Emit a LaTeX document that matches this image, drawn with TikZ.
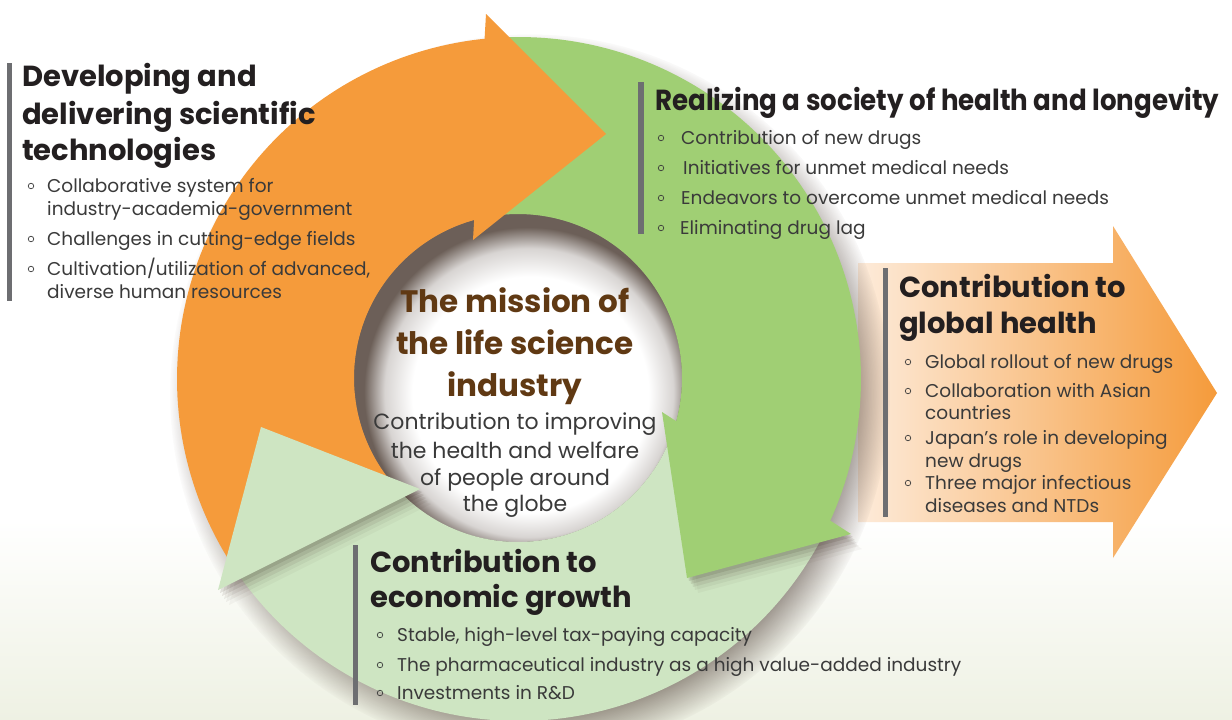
\documentclass[tikz,border=0pt]{standalone}
\usepackage{fontspec}
\setmainfont{Poppins}
\usetikzlibrary{fadings}
\definecolor{cOrange}{HTML}{F59B3B}
\definecolor{cGreen}{HTML}{A0CF74}
\definecolor{cLight}{HTML}{CEE5C2}
\definecolor{cBar}{HTML}{6D6E71}
\definecolor{cTitle}{HTML}{231F20}
\definecolor{cText}{HTML}{3A3A3A}
\definecolor{cBrown}{HTML}{603913}
\definecolor{cShadow}{HTML}{3B2A20}
\definecolor{cPeach}{HTML}{FDEBDA}
\definecolor{cBgLow}{HTML}{EEF1E3}
\pgfdeclareradialshading{holeshade}{\pgfpoint{3bp}{-4bp}}{color(0bp)=(white); color(18bp)=(white); color(22bp)=(cShadow!20!white); color(25bp)=(cShadow!75!white); color(50bp)=(cShadow!75!white)}
\begin{document}
\begin{tikzpicture}[x=1pt,y=-1pt,
  ttl/.style={anchor=base west, inner sep=0pt, font=\bfseries\fontsize{29}{29}\selectfont, text=cTitle},
  itm/.style={anchor=base west, inner sep=0pt, font=\fontsize{18.5}{18.5}\selectfont, text=cText},
  bulc/.style={circle, draw=cText, line width=0.7pt, minimum size=5.5pt, inner sep=0pt},
  ctt/.style={anchor=base, inner sep=0pt, font=\bfseries\fontsize{31}{31}\selectfont, text=cBrown},
  csub/.style={anchor=base, inner sep=0pt, font=\fontsize{22}{22}\selectfont, text=cText},
  bar/.style={fill=cBar}
]
\useasboundingbox (0,0) rectangle (1232,720);
\fill[white] (0,0) rectangle (1232,720);
\shade[top color=white, bottom color=cBgLow] (0,520) rectangle (1232,720);

% global health arrow
\shade[left color=cPeach, right color=cOrange]
  (858,263) -- (1113,263) -- (1113,226) -- (1217,393) -- (1113,558) -- (1113,522) -- (858,522) -- cycle;

% ring shadow
\fill[cShadow, opacity=0.65, path fading=circle with fuzzy edge 15 percent] (530,394) circle (360);
% hole
\shade[shading=holeshade] (518,378) circle (164);

% bodies
\fill[cGreen] plot[domain=266:386, samples=90] ({519+342*cos(\x)},{379+342*sin(\x)})
  -- plot[domain=378:257, samples=90] ({518+164*cos(\x)},{378+164*sin(\x)}) -- cycle;
\fill[cOrange] plot[domain=146:266, samples=90] ({519+342*cos(\x)},{379+342*sin(\x)})
  -- plot[domain=257:136, samples=90] ({518+164*cos(\x)},{378+164*sin(\x)}) -- cycle;
\fill[cLight] plot[domain=26:146, samples=90] ({519+342*cos(\x)},{379+342*sin(\x)})
  -- plot[domain=136:18, samples=90] ({518+164*cos(\x)},{378+164*sin(\x)}) -- cycle;

% head shadows
\foreach \dx/\dy/\op in {2/3/0.12, 4/6/0.1, 6/9/0.08, 8/12/0.06, 11/15/0.04}{
  \fill[cShadow, opacity=\op, shift={(\dx,\dy)}] (662,412) -- (687,578) -- (851,534) -- cycle;
  \fill[cShadow, opacity=\op, shift={(\dx,\dy)}] (261,427) -- (420,489) -- (218,590) -- cycle;
}
% heads
\fill[cOrange] (486,14) -- (606,134) -- (473,240) -- cycle;
\fill[cGreen] (662,412) -- (687,578) -- (851,534) -- cycle;
\fill[cLight] (261,427) -- (420,489) -- (218,590) -- cycle;

% left block
\fill[bar] (7,63) rectangle (12,301);
\node[ttl] (t1a) at (22,86) {Developing and};
\node[ttl] (t1b) at (22,124) {delivering scientific};
\node[ttl] (t1c) at (22,160) {technologies};
\node[bulc] (b1a) at (31,186) {};
\node[itm] (i1a) at (47,192) {Collaborative system for};
\node[itm] (i1b) at (47,215) {industry-academia-government};
\node[bulc] (b1b) at (31,239) {};
\node[itm] (i1c) at (47,245) {Challenges in cutting-edge fields};
\node[bulc] (b1c) at (31,269) {};
\node[itm] (i1d) at (47,275) {Cultivation/utilization of advanced,};
\node[itm] (i1e) at (47,298) {diverse human resources};

% top-right block
\fill[bar] (638,82) rectangle (644,234);
\node[ttl] (t2) at (655,110) {\scalebox{0.9}[1]{Realizing a society of health and longevity}};
\node[bulc] (b2a) at (661,138) {};
\node[itm] (i2a) at (681,144) {Contribution of new drugs};
\node[bulc] (b2b) at (661,168) {};
\node[itm] (i2b) at (683,174) {Initiatives for unmet medical needs};
\node[bulc] (b2c) at (661,198) {};
\node[itm] (i2c) at (681,204) {Endeavors to overcome unmet medical needs};
\node[bulc] (b2d) at (661,228) {};
\node[itm] (i2d) at (680,234) {Eliminating drug lag};

% global health block
\fill[bar] (883,268) rectangle (888,517);
\node[ttl] (t3a) at (899,297) {Contribution to};
\node[ttl] (t3b) at (899,333) {global health};
\node[bulc] (b3a) at (908,362) {};
\node[itm] (i3a) at (925,368) {Global rollout of new drugs};
\node[bulc] (b3b) at (908,391) {};
\node[itm] (i3b) at (925,397) {Collaboration with Asian};
\node[itm] (i3c) at (925,419) {countries};
\node[bulc] (b3c) at (908,438) {};
\node[itm] (i3d) at (925,444) {Japan’s role in developing};
\node[itm] (i3e) at (925,467) {new drugs};
\node[bulc] (b3d) at (908,483) {};
\node[itm] (i3f) at (925,489) {Three major infectious};
\node[itm] (i3g) at (925,512) {diseases and NTDs};

% economic block
\fill[bar] (353,545) rectangle (358,705);
\node[ttl] (t4a) at (370,572) {Contribution to};
\node[ttl] (t4b) at (370,607) {economic growth};
\node[bulc] (b4a) at (380,635) {};
\node[itm] (i4a) at (397,641) {Stable, high-level tax-paying capacity};
\node[bulc] (b4b) at (380,665) {};
\node[itm] (i4b) at (397,671) {The pharmaceutical industry as a high value-added industry};
\node[bulc] (b4c) at (380,693) {};
\node[itm] (i4c) at (397,699) {Investments in R\&D};

% center
\node[ctt] (c1) at (515,312) {The mission of};
\node[ctt] (c2) at (515,354) {the life science};
\node[ctt] (c3) at (515,396) {industry};
\node[csub] (c4) at (515,429) {Contribution to improving};
\node[csub] (c5) at (515,458) {the health and welfare};
\node[csub] (c6) at (515,485) {of people around};
\node[csub] (c7) at (515,511) {the globe};
\end{tikzpicture}
\end{document}
